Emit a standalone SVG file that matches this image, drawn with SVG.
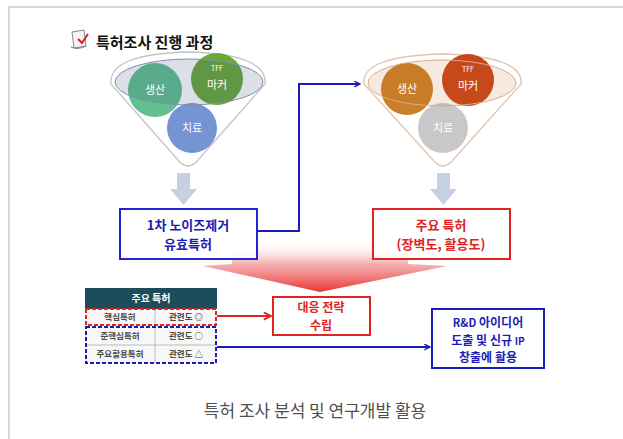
<svg xmlns="http://www.w3.org/2000/svg" width="623" height="439" viewBox="0 0 623 439">
<defs>
<style>
text{font-family:"Noto Sans CJK KR","Noto Sans",sans-serif;}
.ct{fill:#ffffff;font-size:11px;text-anchor:middle;}
.cs{fill:#ffffff;font-size:7px;text-anchor:middle;}
.bt{font-size:13px;font-weight:bold;text-anchor:middle;}
.bs{font-size:12px;font-weight:bold;text-anchor:middle;}
.blue{fill:#1c1cb4;}
.red{fill:#e02424;}
.tc{font-size:8.5px;fill:#4a4a4a;text-anchor:middle;font-weight:bold;}
.funnel{fill:#ffffff;stroke-width:1.3;}
.garrow{fill:#c7cfe2;}
</style>
<marker id="ab" viewBox="0 0 10 10" refX="9" refY="5" markerWidth="7" markerHeight="7" orient="auto" markerUnits="userSpaceOnUse"><path d="M1,1 L9,5 L1,9" fill="none" stroke="#1c1cb4" stroke-width="2"/></marker>
<marker id="ar" viewBox="0 0 10 10" refX="9" refY="5" markerWidth="9" markerHeight="9" orient="auto" markerUnits="userSpaceOnUse"><path d="M1,1 L9,5 L1,9" fill="none" stroke="#e02424" stroke-width="2"/></marker>
<linearGradient id="big" x1="0" y1="240" x2="0" y2="292" gradientUnits="userSpaceOnUse">
<stop offset="0" stop-color="#ffffff" stop-opacity="0"/>
<stop offset="0.45" stop-color="#f4a0a0" stop-opacity="0.8"/>
<stop offset="1" stop-color="#ea3434"/>
</linearGradient>
</defs>
<rect width="623" height="439" fill="#ffffff"/>
<path d="M9,439 L9,7 L623,7" fill="none" stroke="#d8d8d8" stroke-width="2"/>

<g id="title">
<path d="M72,32 L84,30 L86,46 L74,48 Z" fill="#f4f4f4" stroke="#8a8a8a" stroke-width="1"/>
<path d="M71,47 Q78,50 86,46" fill="none" stroke="#6a8aa0" stroke-width="1.2"/>
<path d="M78,39 L82,43 L88,34" fill="none" stroke="#d02030" stroke-width="2"/>
<text x="96" y="48" font-size="15" font-weight="bold" fill="#111">특허조사 진행 과정</text>
</g>

<g id="funnel-left">
<path class="funnel" stroke="#c4c4c4" d="M111,84 Q108,54 188,52 Q268,54 265,84 L198,160 Q188,172 178,160 Z"/>
<circle cx="155" cy="90" r="27" fill="#62bf90"/>
<circle cx="217" cy="79" r="26" fill="#6aa83a"/>
<circle cx="192" cy="128" r="25" fill="#7594d4"/>
<ellipse cx="189" cy="82" rx="74" ry="23" fill="#3a5078" fill-opacity="0.18" stroke="#8090a8" stroke-width="1"/>
<text class="ct" x="155" y="94">생산</text>
<text class="cs" x="217" y="71">TFF</text>
<text class="ct" x="217" y="89">마커</text>
<text class="ct" x="192" y="132">치료</text>
<path class="garrow" d="M177,173 L190,173 L190,189 L197,189 L183.5,205 L170,189 L177,189 Z"/>
</g>

<g id="funnel-right">
<path class="funnel" stroke="#e0c4b0" d="M364,84 Q361,56 442,54 Q524,56 521,84 L453,160 Q443,172 433,160 Z"/>
<circle cx="407" cy="89" r="26" fill="#c98028"/>
<circle cx="468" cy="80" r="26" fill="#c8441a"/>
<circle cx="443" cy="128" r="25" fill="#c8c8c8"/>
<ellipse cx="442" cy="83" rx="74" ry="23" fill="#c06020" fill-opacity="0.14" stroke="#d8aa88" stroke-width="1"/>
<text class="ct" x="407" y="93">생산</text>
<text class="cs" x="468" y="72">TFF</text>
<text class="ct" x="468" y="90">마커</text>
<text class="ct" x="443" y="132">치료</text>
<path class="garrow" d="M437,173 L450,173 L450,189 L457,189 L443.5,205 L430,189 L437,189 Z"/>
</g>

<g id="big-arrow">
<path d="M232,240 L408,240 L408,264 L447,266 L320,292 L203,266 L232,264 Z" fill="url(#big)"/>
</g>

<g id="box-noise">
<rect x="120" y="209" width="137" height="50" fill="#ffffff" fill-opacity="0.85" stroke="#2424d0" stroke-width="2"/>
<text class="bt blue" x="188" y="230">1차 노이즈제거</text>
<text class="bt blue" x="188" y="249">유효특허</text>
</g>

<g id="box-main">
<rect x="373" y="209" width="137" height="50" fill="#ffffff" fill-opacity="0.85" stroke="#e02424" stroke-width="2"/>
<text class="bt red" x="441" y="230">주요 특허</text>
<text class="bt red" x="441" y="249">(장벽도, 활용도)</text>
</g>

<g id="table">
<rect x="85" y="288" width="132" height="21" fill="#1d4d5a"/>
<text x="151" y="302" font-size="10" font-weight="bold" fill="#ffffff" text-anchor="middle">주요 특허</text>
<rect x="85" y="309" width="132" height="54" fill="#f7f7f7"/>
<line x1="155" y1="309" x2="155" y2="363" stroke="#bbbbbb" stroke-width="1"/>
<line x1="85" y1="345" x2="217" y2="345" stroke="#bbbbbb" stroke-width="1"/>
<rect x="86" y="309" width="130" height="16" fill="none" stroke="#e02424" stroke-width="2" stroke-dasharray="4 2"/>
<rect x="86" y="327" width="130" height="36" fill="none" stroke="#1c1cb4" stroke-width="2" stroke-dasharray="4 2"/>
<text class="tc" x="120" y="320">핵심특허</text>
<text class="tc" x="186" y="320">관련도 ◎</text>
<text class="tc" x="120" y="339">준핵심특허</text>
<text class="tc" x="186" y="339">관련도 ○</text>
<text class="tc" x="120" y="357">주요활용특허</text>
<text class="tc" x="186" y="357">관련도 △</text>
</g>

<g id="box-strategy">
<rect x="273" y="297" width="97" height="38" fill="#ffffff" stroke="#e02424" stroke-width="2"/>
<text class="bs red" x="321" y="312">대응 전략</text>
<text class="bs red" x="321" y="330">수립</text>
</g>

<g id="box-rnd">
<rect x="432" y="309" width="112" height="59" fill="#ffffff" stroke="#1c1cb4" stroke-width="2"/>
<text class="bs blue" x="488" y="327"><tspan font-size="11">R&amp;D</tspan> 아이디어</text>
<text class="bs blue" x="488" y="344.5">도출 및 신규 <tspan font-size="10">IP</tspan></text>
<text class="bs blue" x="488" y="362">창출에 활용</text>
</g>

<g id="connectors" fill="none" stroke-width="2">
<path d="M257,231 L299,231 L299,84 L360,84" stroke="#1c1cb4" marker-end="url(#ab)"/>
<path d="M217,316 L271,316" stroke="#e02424" marker-end="url(#ar)"/>
<path d="M217,347 L430,347" stroke="#1c1cb4" marker-end="url(#ab)"/>
</g>

<text x="315" y="417" font-size="17" fill="#505050" text-anchor="middle">특허 조사 분석 및 연구개발 활용</text>
</svg>
